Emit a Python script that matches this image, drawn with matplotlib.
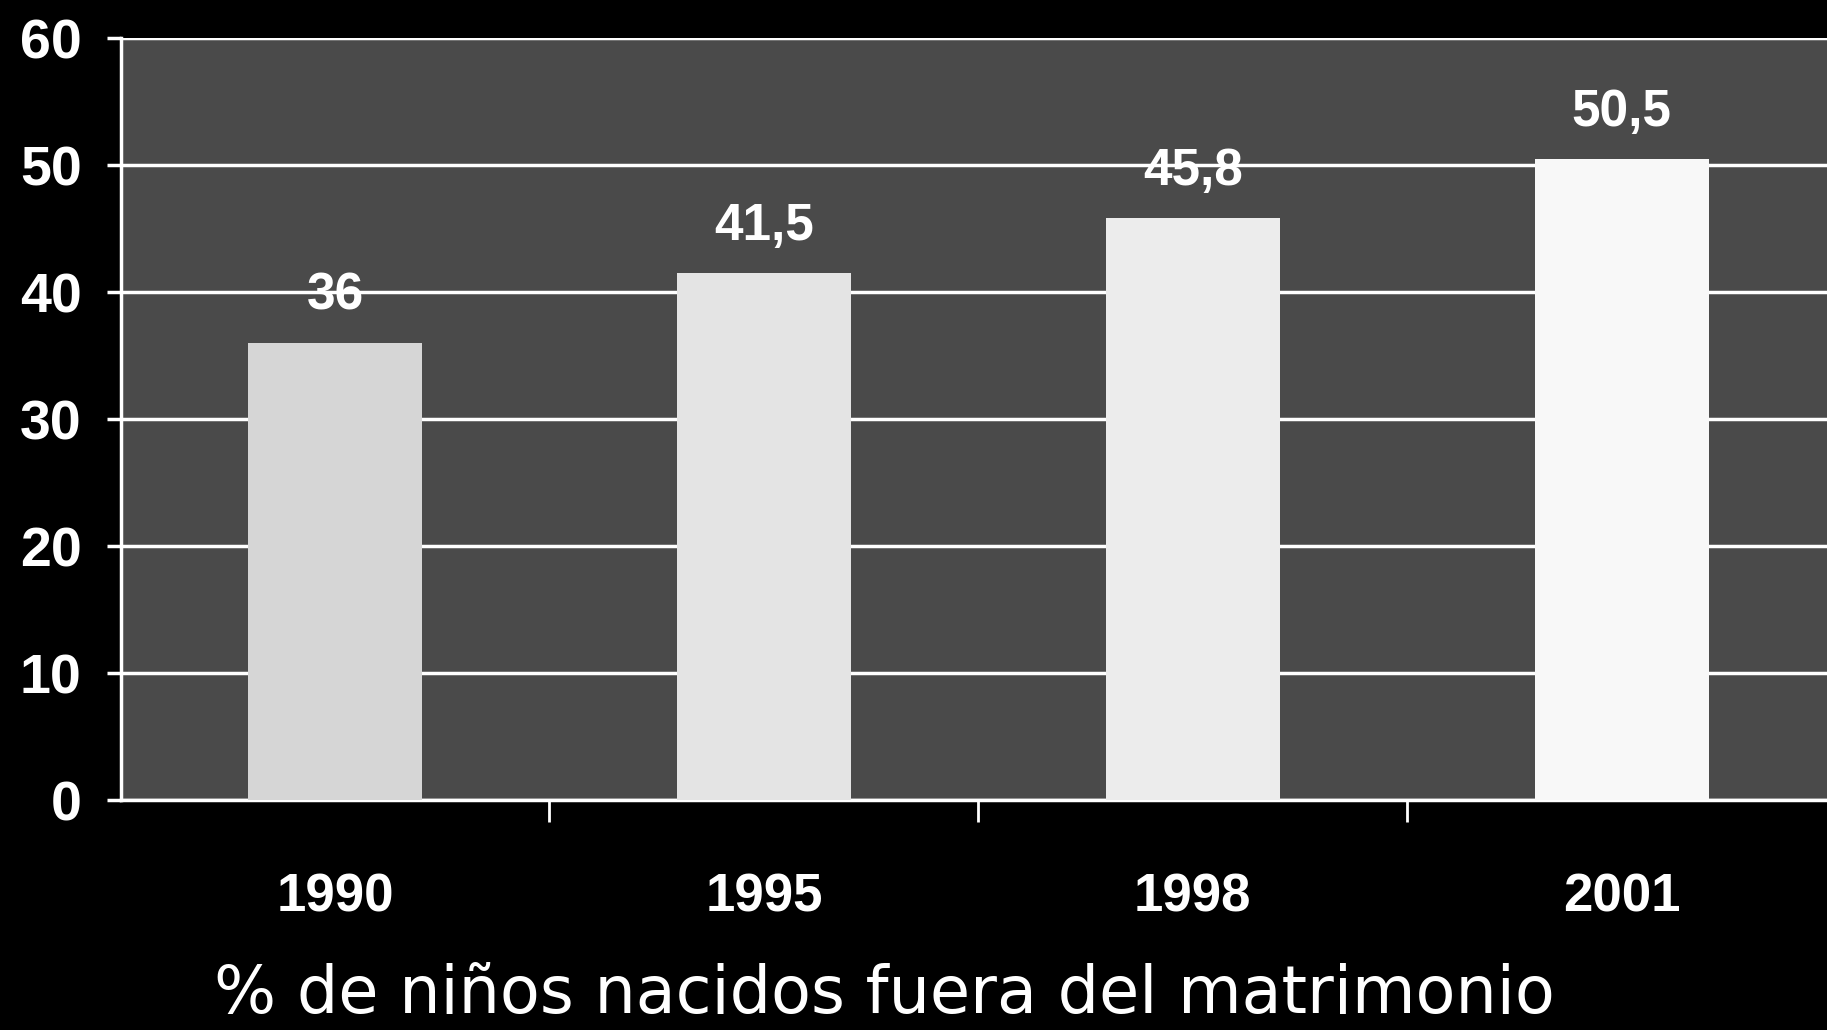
import numpy as np
import matplotlib.pyplot as plt

years = ["1990", "1995", "1998", "2001"]
values = [36, 41.5, 45.8, 50.5]
value_labels = ["36", "41,5", "45,8", "50,5"]
bar_colors = ["#d6d6d6", "#e4e4e4", "#ececec", "#f8f8f8"]
y_ticks = [0, 10, 20, 30, 40, 50, 60]

fig = plt.figure(figsize=(18.27, 10.30), dpi=100)
fig.patch.set_facecolor("black")
ax = fig.add_axes([0.066, 0.223, 0.939, 0.740])
ax.set_facecolor("#4a4a4a")

x = np.arange(len(years))
ax.set_axisbelow(True)
ax.yaxis.grid(True, color="white", linewidth=2.5)
ax.bar(x, values, width=0.405, color=bar_colors, zorder=3)

for xi, v, lab in zip(x, values, value_labels):
    ax.annotate(lab, (xi, v), xytext=(0, 16), textcoords="offset points",
                ha="center", va="bottom", color="white", fontsize=37,
                fontweight="bold", family="Liberation Sans", zorder=4)

ax.set_xlim(-0.5, 3.5)
ax.set_ylim(0, 60)
ax.set_yticks(y_ticks)
ax.set_yticklabels([str(t) for t in y_ticks], fontsize=40, fontweight="bold",
                   family="Liberation Sans", color="white")
ax.tick_params(axis="y", colors="white", length=10, width=2.5, pad=18)

ax.set_xticks(x)
ax.set_xticklabels(years, fontsize=38, fontweight="bold",
                   family="Liberation Sans", color="white")
ax.tick_params(axis="x", which="major", length=0, pad=52)
ax.set_xticks(np.arange(0.5, 3.5, 1), minor=True)
ax.tick_params(axis="x", which="minor", colors="white", length=16, width=2)

for side in ["top", "right"]:
    ax.spines[side].set_visible(False)
for side in ["left", "bottom"]:
    ax.spines[side].set_color("white")
    ax.spines[side].set_linewidth(2.5)

fig.text(0.484, 0.034, "% de niños nacidos fuera del matrimonio",
         ha="center", va="center", color="white", fontsize=47,
         family="DejaVu Sans")

plt.savefig("out.png", dpi=100, facecolor=fig.get_facecolor())
